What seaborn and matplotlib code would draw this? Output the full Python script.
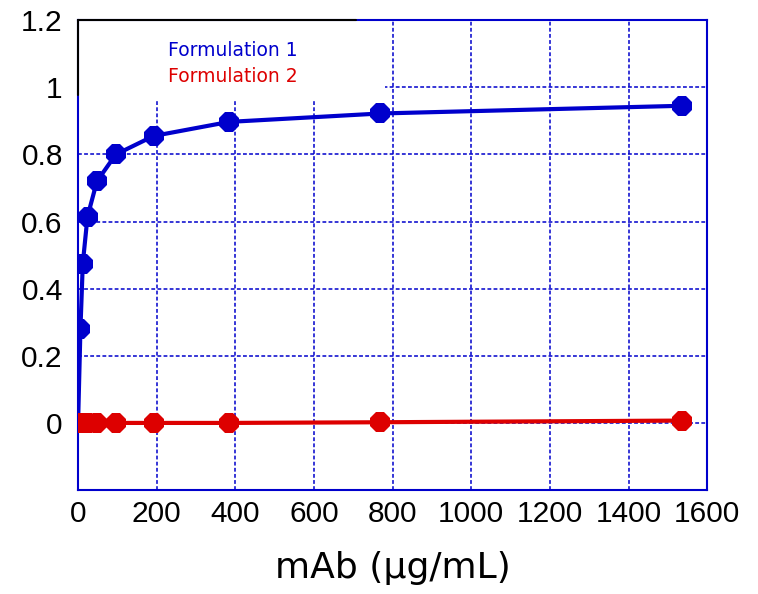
import seaborn as sns
import matplotlib.pyplot as plt
import pandas as pd
from matplotlib.patches import Rectangle

# data
conc = [0, 6, 12, 24, 48, 96, 192, 384, 768, 1536]
form1 = [0.0, 0.28, 0.475, 0.615, 0.72, 0.80, 0.855, 0.897, 0.922, 0.945]
form2 = [0.0, 0.0, 0.0, 0.0, 0.0, 0.0, 0.0, 0.0, 0.002, 0.007]
labels = ["Formulation 1", "Formulation 2"]
colors = ["#0000CC", "#DD0000"]

x_ticks = [0, 200, 400, 600, 800, 1000, 1200, 1400, 1600]
y_ticks = [0, 0.2, 0.4, 0.6, 0.8, 1.0, 1.2]
y_ticklabels = ["0", "0.2", "0.4", "0.6", "0.8", "1", "1.2"]

df = pd.DataFrame({
    "conc": conc * 2,
    "value": form1 + form2,
    "series": [labels[0]] * len(conc) + [labels[1]] * len(conc),
})

sns.set_style("white")
plt.rcParams["font.family"] = ["DejaVu Sans"]

fig = plt.figure(figsize=(7.58, 5.94), dpi=100)
ax = fig.add_axes([0.103, 0.175, 0.83, 0.791])

sns.lineplot(data=df, x="conc", y="value", hue="series", palette=colors,
             marker="8", markersize=16, markeredgewidth=0, linewidth=3,
             legend=False, ax=ax, zorder=3)

ax.set_xlim(0, 1600)
ax.set_ylim(-0.2, 1.2)
ax.set_xticks(x_ticks)
ax.set_xticklabels([str(t) for t in x_ticks])
ax.set_yticks(y_ticks)
ax.set_yticklabels(y_ticklabels)
ax.tick_params(axis="both", labelsize=21.5, labelcolor="black", direction="in",
               length=3, color="#0000CC")
ax.tick_params(axis="x", pad=7)
ax.tick_params(axis="y", pad=11)
for lab in ax.get_xticklabels() + ax.get_yticklabels():
    lab.set_fontfamily("Liberation Sans")

ax.grid(True, color="#0000CC", linestyle=(0, (2.5, 1.5)), linewidth=1.1)
for s in ax.spines.values():
    s.set_color("#0000CC")
    s.set_linewidth(1.5)

# white box behind the series names (covers the grid, black edges on top/left)
ax.add_patch(Rectangle((0, 0.83), 0.488, 0.17, transform=ax.transAxes,
                       facecolor="white", edgecolor="none", zorder=2.5))
ax.plot([0, 0.442], [1, 1], transform=ax.transAxes, color="black", lw=1.5,
        zorder=4, clip_on=False)
ax.plot([0, 0], [0.84, 1], transform=ax.transAxes, color="black", lw=1.5,
        zorder=4, clip_on=False)

ax.text(0.143, 0.935, labels[0], transform=ax.transAxes, color=colors[0],
        fontsize=13.5, va="center", zorder=5)
ax.text(0.143, 0.88, labels[1], transform=ax.transAxes, color=colors[1],
        fontsize=13.5, va="center", zorder=5)

ax.set_xlabel("mAb (μg/mL)", fontsize=26, labelpad=17, color="black")
ax.set_ylabel("")

fig.savefig("out.png", dpi=100)
